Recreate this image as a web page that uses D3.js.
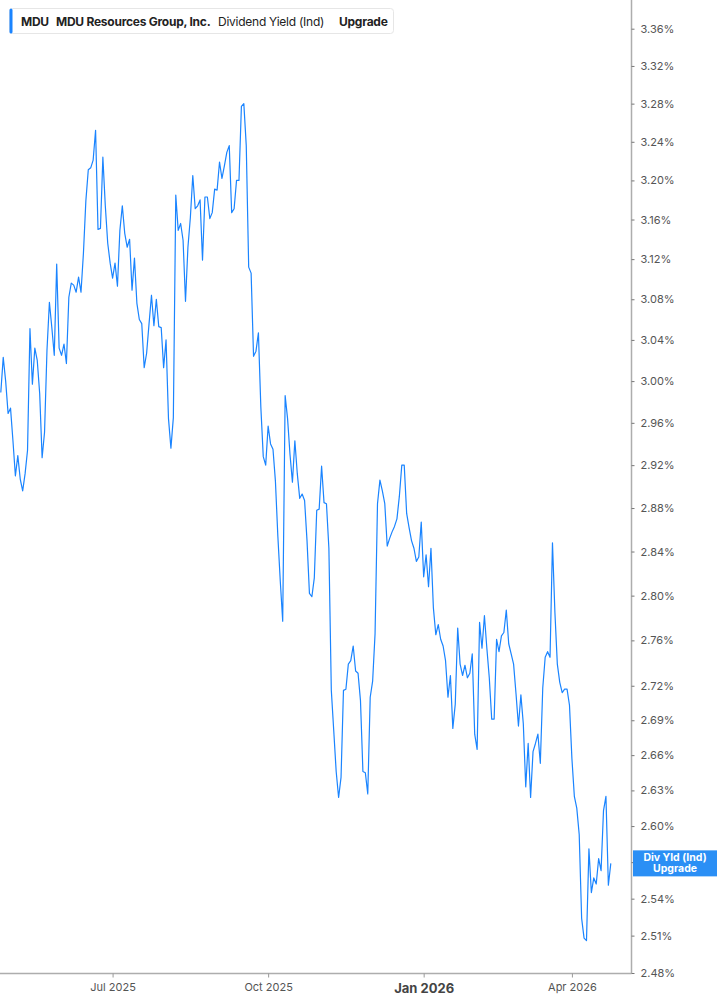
<!DOCTYPE html>
<html><head><meta charset="utf-8">
<script src="https://cdn.jsdelivr.net/npm/d3@7"></script>
<style>
body{margin:0;background:#fff;}
svg{display:block;font-family:Inter,"Noto Sans",sans-serif;}
</style>
</head><body>
<svg id="chart" width="717" height="1005"></svg>
<script>
const dates = [
"2025-04-24","2025-04-25","2025-04-28","2025-04-29","2025-04-30",
"2025-05-01","2025-05-02","2025-05-05","2025-05-06","2025-05-07","2025-05-08","2025-05-09","2025-05-12","2025-05-13","2025-05-14","2025-05-15","2025-05-16","2025-05-19","2025-05-20","2025-05-21","2025-05-22","2025-05-23","2025-05-27","2025-05-28","2025-05-29","2025-05-30",
"2025-06-02","2025-06-03","2025-06-04","2025-06-05","2025-06-06","2025-06-09","2025-06-10","2025-06-11","2025-06-12","2025-06-13","2025-06-16","2025-06-17","2025-06-18","2025-06-20","2025-06-23","2025-06-24","2025-06-25","2025-06-26","2025-06-27","2025-06-30",
"2025-07-01","2025-07-02","2025-07-03","2025-07-07","2025-07-08","2025-07-09","2025-07-10","2025-07-11","2025-07-14","2025-07-15","2025-07-16","2025-07-17","2025-07-18","2025-07-21","2025-07-22","2025-07-23","2025-07-24","2025-07-25","2025-07-28","2025-07-29","2025-07-30","2025-07-31",
"2025-08-01","2025-08-04","2025-08-05","2025-08-06","2025-08-07","2025-08-08","2025-08-11","2025-08-12","2025-08-13","2025-08-14","2025-08-15","2025-08-18","2025-08-19","2025-08-20","2025-08-21","2025-08-22","2025-08-25","2025-08-26","2025-08-27","2025-08-28","2025-08-29",
"2025-09-02","2025-09-03","2025-09-04","2025-09-05","2025-09-08","2025-09-09","2025-09-10","2025-09-11","2025-09-12","2025-09-15","2025-09-16","2025-09-17","2025-09-18","2025-09-19","2025-09-22","2025-09-23","2025-09-24","2025-09-25","2025-09-26","2025-09-29","2025-09-30",
"2025-10-01","2025-10-02","2025-10-03","2025-10-06","2025-10-07","2025-10-08","2025-10-09","2025-10-10","2025-10-13","2025-10-14","2025-10-15","2025-10-16","2025-10-17","2025-10-20","2025-10-21","2025-10-22","2025-10-23","2025-10-24","2025-10-27","2025-10-28","2025-10-29","2025-10-30","2025-10-31",
"2025-11-03","2025-11-04","2025-11-05","2025-11-06","2025-11-07","2025-11-10","2025-11-11","2025-11-12","2025-11-13","2025-11-14","2025-11-17","2025-11-18","2025-11-19","2025-11-20","2025-11-21","2025-11-24","2025-11-25","2025-11-26","2025-11-28",
"2025-12-01","2025-12-02","2025-12-03","2025-12-04","2025-12-05","2025-12-08","2025-12-09","2025-12-10","2025-12-11","2025-12-12","2025-12-15","2025-12-16","2025-12-17","2025-12-18","2025-12-19","2025-12-22","2025-12-23","2025-12-24","2025-12-26","2025-12-29","2025-12-30","2025-12-31",
"2026-01-02","2026-01-05","2026-01-06","2026-01-07","2026-01-08","2026-01-09","2026-01-12","2026-01-13","2026-01-14","2026-01-15","2026-01-16","2026-01-20","2026-01-21","2026-01-22","2026-01-23","2026-01-26","2026-01-27","2026-01-28","2026-01-29","2026-01-30",
"2026-02-02","2026-02-03","2026-02-04","2026-02-05","2026-02-06","2026-02-09","2026-02-10","2026-02-11","2026-02-12","2026-02-13","2026-02-17","2026-02-18","2026-02-19","2026-02-20","2026-02-23","2026-02-24","2026-02-25","2026-02-26","2026-02-27",
"2026-03-02","2026-03-03","2026-03-04","2026-03-05","2026-03-06","2026-03-09","2026-03-10","2026-03-11","2026-03-12","2026-03-13","2026-03-16","2026-03-17","2026-03-18","2026-03-19","2026-03-20","2026-03-23","2026-03-24","2026-03-25","2026-03-26","2026-03-27","2026-03-30","2026-03-31",
"2026-04-01","2026-04-02","2026-04-06","2026-04-07","2026-04-08","2026-04-09","2026-04-10","2026-04-13","2026-04-14","2026-04-15","2026-04-16","2026-04-17","2026-04-20","2026-04-21","2026-04-22","2026-04-23","2026-04-24"
];

const yieldValues = [
2.989,3.023,3.000,2.969,2.974,2.943,2.910,2.929,2.907,2.896,
2.912,2.934,3.051,2.997,3.032,3.020,2.988,2.927,2.951,3.030,
3.077,3.052,3.025,3.115,3.032,3.025,3.036,3.017,3.082,3.096,
3.094,3.087,3.102,3.087,3.126,3.179,3.211,3.213,3.221,3.252,
3.150,3.151,3.224,3.174,3.136,3.116,3.101,3.116,3.093,3.149,
3.174,3.146,3.132,3.140,3.089,3.121,3.076,3.060,3.056,3.013,
3.027,3.056,3.084,3.054,3.080,3.053,3.052,3.013,3.040,2.964,
2.936,2.965,3.185,3.149,3.156,3.139,3.078,3.132,3.162,3.205,
3.171,3.174,3.180,3.119,3.183,3.183,3.161,3.167,3.191,3.190,
3.219,3.202,3.215,3.229,3.236,3.167,3.171,3.200,3.200,3.277,
3.280,3.236,3.112,3.106,3.024,3.029,3.047,2.975,2.928,2.920,
2.957,2.940,2.935,2.905,2.854,2.813,2.777,2.986,2.964,2.930,
2.904,2.943,2.912,2.889,2.893,2.887,2.850,2.802,2.799,2.816,
2.878,2.879,2.919,2.885,2.884,2.843,2.716,2.681,2.646,2.624,
2.641,2.716,2.717,2.739,2.742,2.755,2.733,2.731,2.707,2.646,
2.645,2.627,2.710,2.724,2.766,2.884,2.906,2.896,2.884,2.845,
2.852,2.858,2.863,2.870,2.891,2.920,2.920,2.875,2.862,2.850,
2.843,2.831,2.835,2.867,2.817,2.837,2.808,2.843,2.789,2.765,
2.774,2.761,2.755,2.742,2.710,2.729,2.683,2.704,2.771,2.739,
2.729,2.738,2.727,2.731,2.748,2.678,2.665,2.776,2.753,2.782,
2.753,2.727,2.691,2.691,2.761,2.750,2.764,2.767,2.787,2.757,
2.748,2.739,2.713,2.685,2.712,2.687,2.633,2.670,2.624,2.663,
2.670,2.678,2.653,2.718,2.745,2.750,2.745,2.848,2.785,2.739,
2.723,2.714,2.717,2.717,2.703,2.657,2.625,2.615,2.593,2.524,
2.508,2.506,2.581,2.545,2.557,2.552,2.573,2.563,2.613,2.625,
2.551,2.569
];

const yTickValues = [2.48,2.51,2.54,2.57,2.60,2.63,2.66,2.69,2.72,2.76,2.80,2.84,2.88,2.92,2.96,3.00,3.04,3.08,3.12,3.16,3.20,3.24,3.28,3.32,3.36];
const xTickDates = ["2025-07-01","2025-10-01","2026-01-02","2026-04-01"];
const xTickLabels = ["Jul 2025","Oct 2025","Jan 2026","Apr 2026"];
const legendParts = ["MDU","MDU Resources Group, Inc.","Dividend Yield (Ind)","Upgrade"];
const badgeLines = ["Div Yld (Ind)","Upgrade"];

const svg = d3.select("#chart");
const axisX = 631.5, axisY = 973.5;

const x = d3.scalePoint().domain(dates).range([0.8, 610.8]);
const y = d3.scaleLog().domain([2.48, 3.36]).range([973, 28.7]);

const lastVal = yieldValues[yieldValues.length - 1];
const by = y(lastVal);

// axes lines
svg.append("line").attr("x1", axisX).attr("x2", axisX).attr("y1", 0).attr("y2", axisY)
  .attr("stroke", "#adadad").attr("stroke-width", 1.5);
svg.append("line").attr("x1", 0).attr("x2", axisX).attr("y1", axisY).attr("y2", axisY)
  .attr("stroke", "#adadad").attr("stroke-width", 1.5);

// y axis
const yAxis = svg.append("g").attr("transform", `translate(${axisX},0)`)
  .call(d3.axisRight(y).tickValues(yTickValues).tickFormat(d => d.toFixed(2) + "%").tickSize(3).tickPadding(6));
yAxis.select(".domain").remove();
yAxis.selectAll(".tick line").attr("stroke", "#777");
yAxis.selectAll(".tick text").attr("fill", "#555").style("font-size", "11px").style("font-family", "Inter, 'Noto Sans', sans-serif");
// the label hidden under the last-value badge in the reference
yAxis.selectAll(".tick").filter(d => Math.abs(y(d) - by) < 13).select("text").remove();

// x axis
const xAxis = svg.append("g").attr("transform", `translate(0,${axisY})`)
  .call(d3.axisBottom(x).tickValues(xTickDates).tickFormat((d, i) => xTickLabels[i]).tickSize(4).tickPadding(6));
xAxis.select(".domain").remove();
xAxis.selectAll(".tick line").attr("stroke", "#999");
xAxis.selectAll(".tick text").attr("fill", "#555").style("font-size", "11px").style("font-family", "Inter, 'Noto Sans', sans-serif")
  .filter(d => d.startsWith("2026-01"))
  .attr("fill", "#444").style("font-size", "13px").style("font-weight", "700");

// line
const line = d3.line().x((d, i) => x(dates[i])).y(d => y(d));
svg.append("path").datum(yieldValues).attr("d", line)
  .attr("fill", "none").attr("stroke", "#1a84ff").attr("stroke-width", 1.2).attr("stroke-linejoin", "round");

// badge
const badge = svg.append("g");
badge.append("rect").attr("x", 633).attr("y", by - 13).attr("width", 84).attr("height", 26).attr("fill", "#2b8ff5");
badge.selectAll("text").data(badgeLines).join("text")
  .attr("x", 675).attr("y", (d, i) => by - 2 + i * 11)
  .attr("text-anchor", "middle").attr("fill", "#fff")
  .style("font-size", "10.5px").style("font-weight", "700").text(d => d);

// legend
const leg = svg.append("g");
leg.append("rect").attr("x", 9.5).attr("y", 8.5).attr("width", 384).attr("height", 25).attr("rx", 3)
  .attr("fill", "#fff").attr("stroke", "#e6e6e6");
leg.append("rect").attr("x", 9.5).attr("y", 8.5).attr("width", 3).attr("height", 25).attr("rx", 1.5).attr("fill", "#1a84ff");
const legX = [21, 56, 218, 339];
const legW = [700, 700, 400, 700];
leg.selectAll("text.l").data(legendParts).join("text").attr("class", "l")
  .attr("x", (d, i) => legX[i]).attr("y", 25.5)
  .attr("fill", "#222").style("font-size", "12px")
  .style("font-weight", (d, i) => legW[i]).style("letter-spacing", "-0.25px")
  .text(d => d);
</script>
</body></html>
